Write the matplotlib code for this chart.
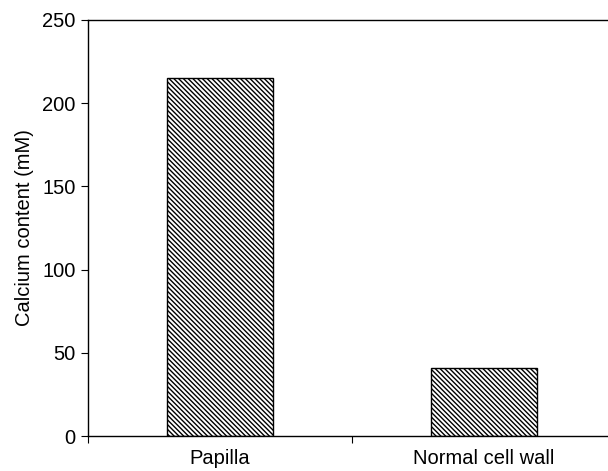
import matplotlib
matplotlib.use("Agg")
import matplotlib.pyplot as plt

categories = ["Papilla", "Normal cell wall"]
values = [215, 41]
yticks = [0, 50, 100, 150, 200, 250]

plt.rcParams['font.family'] = ['Liberation Sans', 'DejaVu Sans']
plt.rcParams['hatch.linewidth'] = 1.0

fig = plt.figure(figsize=(6.08, 4.71), dpi=100)
ax = fig.add_axes([88/608, 35/471, 528/608, 416/471])

pos = [0.5, 1.5]
ax.bar(pos, values, width=0.4, facecolor='white', edgecolor='black',
       hatch='\\' * 7, linewidth=1.0)

fs = 14.5
ax.set_xlim(0, 2)
ax.set_ylim(0, 250)
ax.set_yticks(yticks)
ax.set_xticks([0, 1, 2])
ax.set_xticklabels([])
ax.set_xticks(pos, minor=True)
ax.set_xticklabels(categories, minor=True)
ax.tick_params(axis='x', which='minor', length=0, pad=9, labelsize=fs)
ax.tick_params(axis='x', which='major', direction='out', length=5)
ax.tick_params(axis='y', direction='out', length=5, pad=4, labelsize=fs)
ax.set_ylabel("Calcium content (mM)", fontsize=fs, labelpad=6)
ax.spines['right'].set_visible(False)
for s in ax.spines.values():
    s.set_linewidth(1.0)

fig.savefig("out.png", dpi=100)
